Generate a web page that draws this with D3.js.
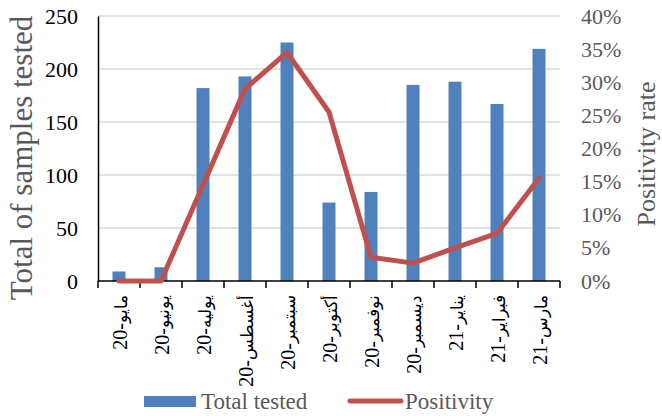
<!DOCTYPE html>
<html>
<head>
<meta charset="utf-8">
<script src="https://cdn.jsdelivr.net/npm/d3@7"></script>
<style>
  html, body { margin: 0; padding: 0; background: #fff; }
  svg { display: block; font-family: "Liberation Serif", "Times New Roman", serif; }
</style>
</head>
<body>
<svg id="chart" width="662" height="416"></svg>
<script>
// Monthly samples tested and positivity rate
const monthNames = ["مايو", "يونيو", "يوليه", "أغسطس", "سبتمبر", "أكتوبر",
                    "نوفمبر", "ديسمبر", "يناير", "فبراير", "مارس"];
const yearSuffix = ["20", "20", "20", "20", "20", "20", "20", "20", "21", "21", "21"];
const months = monthNames.map((d, i) => d + "-" + yearSuffix[i]);
const totalTested = [9, 13, 182, 193, 225, 74, 84, 185, 188, 167, 219];
const positivity = [0, 0, 0.145, 0.29, 0.345, 0.255, 0.036, 0.027, 0.05, 0.072, 0.155];
const leftTicks = [0, 50, 100, 150, 200, 250];
const rightTicks = [0, 0.05, 0.10, 0.15, 0.20, 0.25, 0.30, 0.35, 0.40];

const svg = d3.select("#chart");
const m = { left: 98, right: 560, top: 16, bottom: 281 };
const textColor = "#595959";
const barColor = "#4F81BD";
const lineColor = "#C0504D";

const x = d3.scaleBand().domain(months).range([m.left, m.right]).paddingInner(0).paddingOuter(0);
const yL = d3.scaleLinear().domain([0, 250]).range([m.bottom, m.top]);
const yR = d3.scaleLinear().domain([0, 0.40]).range([m.bottom, m.top]);

// gridlines
svg.append("g")
  .selectAll("line").data(leftTicks.filter(d => d > 0)).join("line")
  .attr("x1", m.left).attr("x2", m.right)
  .attr("y1", d => yL(d)).attr("y2", d => yL(d))
  .attr("stroke", "#d9d9d9").attr("stroke-width", 1.5);

// bars
const barW = 13;
svg.append("g")
  .selectAll("rect").data(totalTested).join("rect")
  .attr("x", (d, i) => x(months[i]) + x.bandwidth() / 2 - barW / 2)
  .attr("width", barW)
  .attr("y", d => yL(d))
  .attr("height", d => yL(0) - yL(d))
  .attr("fill", barColor);

// left axis
const leftAxis = svg.append("g").attr("transform", `translate(${m.left},0)`)
  .call(d3.axisLeft(yL).tickValues(leftTicks).tickSize(0).tickPadding(20));
leftAxis.select(".domain").attr("stroke", "#000").attr("stroke-width", 1.5);
leftAxis.selectAll("text").attr("font-size", 22).attr("fill", "#000")
  .attr("font-family", "Liberation Serif, serif");

// right axis labels
const rightAxis = svg.append("g").attr("transform", `translate(${m.right},0)`)
  .call(d3.axisRight(yR).tickValues(rightTicks).tickSize(0).tickPadding(21).tickFormat(d3.format(".0%")));
rightAxis.select(".domain").remove();
rightAxis.selectAll("text").attr("font-size", 22).attr("fill", textColor)
  .attr("font-family", "Liberation Serif, serif");

// bottom axis with ticks at category boundaries
const bottom = svg.append("g").attr("transform", `translate(0,${m.bottom})`);
bottom.append("line").attr("x1", m.left).attr("x2", m.right)
  .attr("stroke", "#000").attr("stroke-width", 1.5);
const bounds = months.map(d => x(d)).concat([x(months[months.length - 1]) + x.bandwidth()]);
bottom.selectAll("line.tick").data(bounds).join("line").attr("class", "tick")
  .attr("x1", d => d).attr("x2", d => d).attr("y1", 0).attr("y2", 7)
  .attr("stroke", "#000").attr("stroke-width", 1.5);
const labels = bottom.selectAll("text").data(months).join("text")
  .attr("transform", d => `translate(${x(d) + x.bandwidth() / 2 + 8},14) rotate(-90)`)
  .attr("text-anchor", "end")
  .attr("fill", "#000");
labels.append("tspan").attr("font-size", 17).text((d, i) => monthNames[i]);
labels.append("tspan").attr("font-size", 20).text((d, i) => "-" + yearSuffix[i]);

// positivity line
const line = d3.line()
  .x((d, i) => x(months[i]) + x.bandwidth() / 2)
  .y(d => yR(d));
svg.append("path").datum(positivity)
  .attr("d", line)
  .attr("fill", "none")
  .attr("stroke", lineColor)
  .attr("stroke-width", 5)
  .attr("stroke-linejoin", "round")
  .attr("stroke-linecap", "round");

// axis titles
svg.append("text")
  .attr("transform", `translate(32,158) rotate(-90)`)
  .attr("text-anchor", "middle").attr("font-size", 31).attr("fill", textColor)
  .text("Total of samples tested");
svg.append("text")
  .attr("transform", `translate(655,154) rotate(-90)`)
  .attr("text-anchor", "middle").attr("font-size", 26).attr("fill", textColor)
  .text("Positivity rate");

// legend
const legend = svg.append("g");
legend.append("rect").attr("x", 144).attr("y", 396).attr("width", 52).attr("height", 11).attr("fill", barColor);
legend.append("text").attr("x", 201).attr("y", 409).attr("font-size", 23).attr("fill", textColor).text("Total tested");
legend.append("line").attr("x1", 350).attr("x2", 401).attr("y1", 401).attr("y2", 401)
  .attr("stroke", lineColor).attr("stroke-width", 5).attr("stroke-linecap", "round");
legend.append("text").attr("x", 405).attr("y", 409).attr("font-size", 23).attr("fill", textColor).text("Positivity");
</script>
</body>
</html>
